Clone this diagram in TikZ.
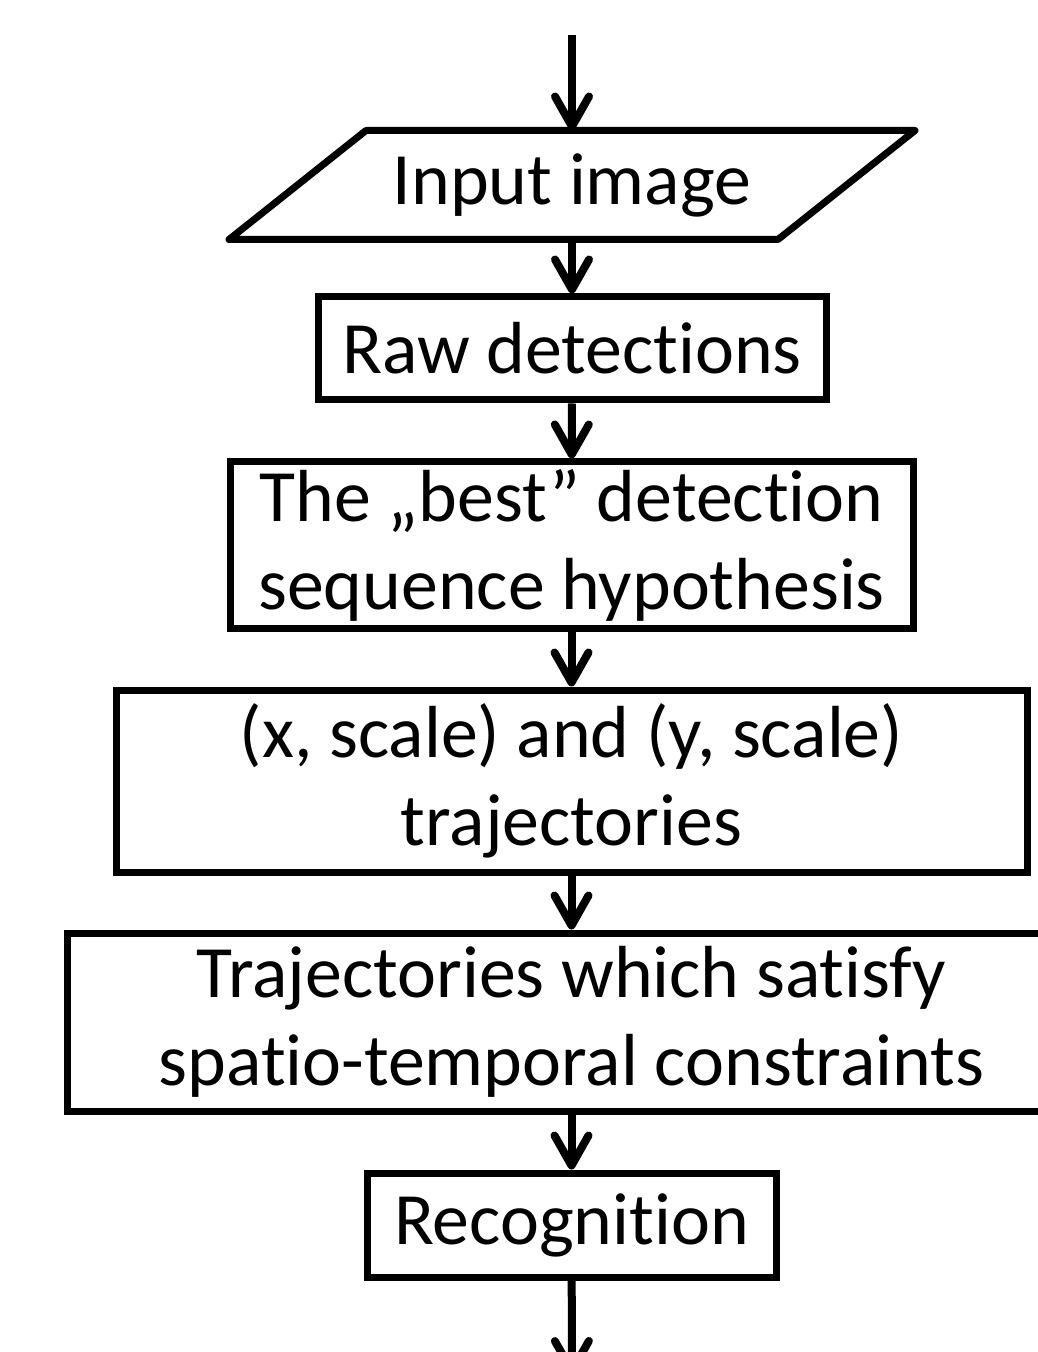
\documentclass[tikz,border=0pt]{standalone}
\usepackage{fontspec}
\setmainfont{Carlito}[Ligatures=NoCommon]
\usetikzlibrary{arrows.meta}

\begin{document}
\begin{tikzpicture}
\tikzset{edge/.style = {-{Straight Barb[length=3mm,width=3.4mm,round]}, line width=0.8mm}}
\tikzset{block/.style = {shape=rectangle, draw, line width=0.7mm, inner sep=0pt, align=center,
  font=\fontsize{21}{25}\selectfont}}
\tikzset{io/.style = {block, draw=none}}
\def \slant {0.685cm}
\useasboundingbox (0,0) rectangle (10.37,-13.52);
\coordinate (start) at (5.72,-0.35);
\node[io, minimum width=5.42cm, minimum height=1.02cm](inp) at (5.72,-1.85) {Input image};
\draw[line width=0.7mm, line join=round] ([xshift=\slant]inp.north west) -- ([xshift=\slant]inp.north east)
  -- ([xshift=-\slant]inp.south east) -- ([xshift=-\slant]inp.south west) -- cycle;
\node[block, minimum width=5.08cm, minimum height=1.03cm](raw) at (5.72,-3.485) {Raw detections};
\node[block, minimum width=6.83cm, minimum height=1.66cm](best) at (5.715,-5.45) {The „best” detection\\sequence hypothesis};
\node[block, minimum width=9.11cm, minimum height=1.82cm](traj) at (5.715,-7.81) {(x, scale) and (y, scale)\\trajectories};
\node[block, minimum width=10.09cm, minimum height=1.78cm](sat) at (5.715,-10.22) {Trajectories which satisfy\\spatio-temporal constraints};
\node[block, minimum width=4.09cm, minimum height=1.04cm](rec) at (5.715,-12.25) {Recognition};
\coordinate (stop) at (5.72,-13.75);
\draw[edge] (start) to (inp.north);
\draw[edge] (inp.south) to (raw);
\draw[edge] (raw) to (best);
\draw[edge] (best) to (traj);
\draw[edge] (traj) to (sat);
\draw[edge] (sat) to (rec);
\draw[edge] (rec) to (stop);
\end{tikzpicture}
\end{document}
